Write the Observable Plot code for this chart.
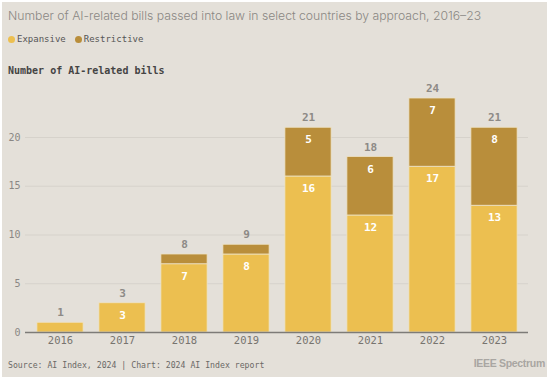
<!DOCTYPE html>
<html>
<head>
<meta charset="utf-8">
<script src="https://cdn.jsdelivr.net/npm/d3@7"></script>
<script src="https://cdn.jsdelivr.net/npm/@observablehq/plot@0.6"></script>
<style>
  html, body { margin: 0; padding: 0; background: #fff; }
  #panel { position: absolute; left: 2px; top: 2px; width: 545px; height: 375px; background: #e4e0d9; overflow: hidden; }
  .abs { position: absolute; white-space: nowrap; }
  #title { left: 6px; top: 6px; font-family: Inter, "Noto Sans", sans-serif; font-weight: 300; font-size: 12.2px; color: #8a8783; }
  #legend { left: 6px; top: 32px; font-family: "DejaVu Sans Mono", monospace; font-size: 9px; color: #555; display: flex; align-items: center; }
  #legend .dot { display: inline-block; width: 7px; height: 7px; border-radius: 50%; margin-right: 2px; }
  #legend .item { display: flex; align-items: center; margin-right: 9px; }
  #subtitle { left: 6px; top: 63px; font-family: "DejaVu Sans Mono", monospace; font-weight: bold; font-size: 10px; color: #444; }
  #chart { left: -2px; top: 74px; width: 553px; }
  #chart svg { max-width: none; }
  #source { left: 6px; top: 358px; font-family: "DejaVu Sans Mono", monospace; font-size: 8.2px; color: #6b6966; }
  #brand { right: 2px; top: 355px; font-family: "Liberation Sans", Arial, sans-serif; font-weight: bold; font-size: 10.5px; color: #a9a6a2; letter-spacing: -0.3px; }
</style>
</head>
<body>
<div id="panel">
  <div id="title" class="abs">Number of AI-related bills passed into law in select countries by approach, 2016–23</div>
  <div id="legend" class="abs"></div>
  <div id="subtitle" class="abs">Number of AI-related bills</div>
  <div id="chart" class="abs"></div>
  <div id="source" class="abs">Source: AI Index, 2024 | Chart: 2024 AI Index report</div>
  <div id="brand" class="abs">IEEE Spectrum</div>
</div>
<script>
const years = ["2016", "2017", "2018", "2019", "2020", "2021", "2022", "2023"];
const expansive = [1, 3, 7, 8, 16, 12, 17, 13];
const restrictive = [0, 0, 1, 1, 5, 6, 7, 8];
const approaches = ["Expansive", "Restrictive"];
const colors = ["#ecbf50", "#b98e3b"];
const yTicks = [0, 5, 10, 15, 20];

const legend = document.getElementById("legend");
approaches.forEach((a, i) => {
  const item = document.createElement("span");
  item.className = "item";
  item.innerHTML = `<span class="dot" style="background:${colors[i]}"></span>${a}`;
  legend.appendChild(item);
});

const rows = [];
years.forEach((y, i) => {
  rows.push({year: y, approach: "Expansive", value: expansive[i]});
  rows.push({year: y, approach: "Restrictive", value: restrictive[i]});
});
const totals = years.map((y, i) => ({year: y, total: expansive[i] + restrictive[i]}));

const mono = "DejaVu Sans Mono, monospace";
const chart = Plot.plot({
  width: 553,
  height: 277,
  marginLeft: 25,
  marginRight: 25,
  marginTop: 22,
  marginBottom: 21,
  style: {background: "transparent", fontFamily: mono, maxWidth: "none"},
  x: {domain: years, padding: 0, label: null},
  y: {domain: [0, 24], label: null},
  color: {domain: approaches, range: colors},
  marks: [
    Plot.gridY(yTicks.filter(d => d > 0), {stroke: "#d6d2cb", strokeOpacity: 1, strokeWidth: 1}),
    Plot.axisY({ticks: yTicks, tickSize: 0, tickPadding: 5, fontSize: 10, fill: "#8a8784", label: null}),
    Plot.axisX({tickSize: 0, tickPadding: 4, fontSize: 10.5, fill: "#77746f", label: null}),
    Plot.barY(rows, {x: "year", y: "value", z: "approach", fill: "approach", stroke: "#eee3c6", strokeWidth: 0.8, order: approaches, insetLeft: 7.9, insetRight: 7.9}),
    Plot.ruleY([0], {stroke: "#7d7b78", strokeWidth: 1.5}),
    Plot.text(rows, Plot.stackY2({x: "year", y: "value", z: "approach", order: approaches, text: d => d.value >= 2 ? String(d.value) : "", dy: 12, fill: "white", fontSize: 11, fontWeight: "bold"})),
    Plot.text(totals, {x: "year", y: "total", text: d => String(d.total), dy: -10, fill: "#8d8a86", fontSize: 11, fontWeight: "bold"})
  ]
});
document.getElementById("chart").appendChild(chart);
</script>
</body>
</html>
